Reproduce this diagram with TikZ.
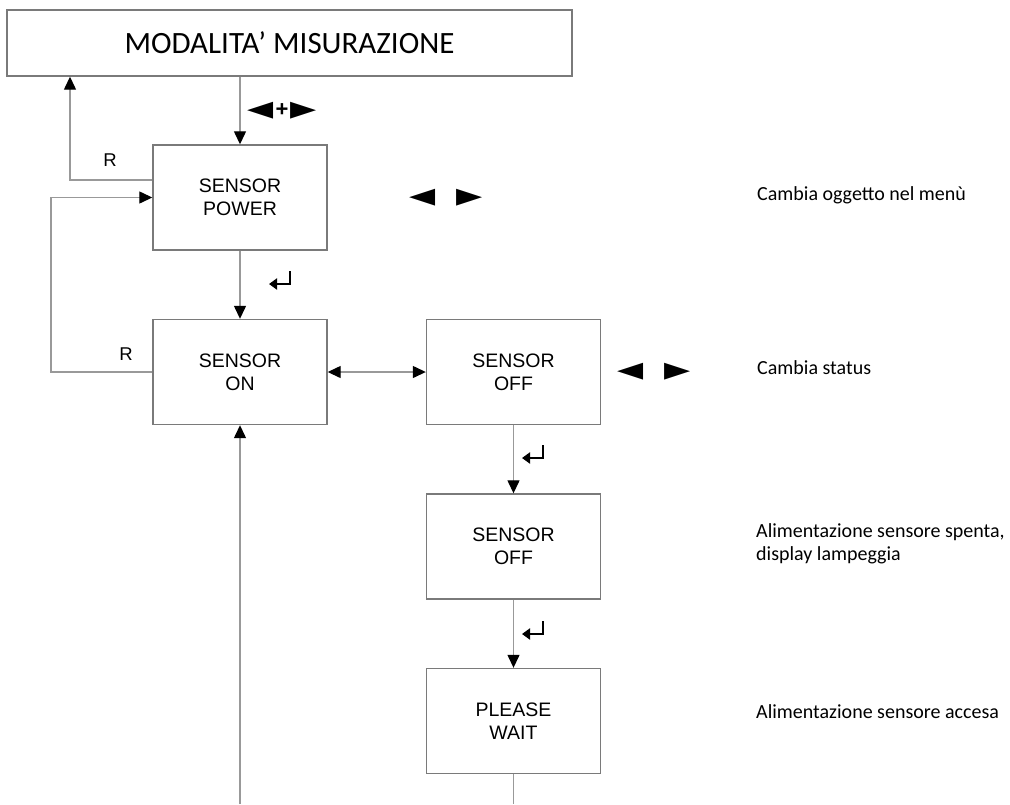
\documentclass[tikz,border=0pt]{standalone}
\usepackage{fontspec}
\setmainfont{Liberation Sans}
\newfontfamily\calib{Carlito}
\newfontfamily\symb{DejaVu Sans}
\usetikzlibrary{arrows.meta}

\definecolor{linegray}{HTML}{999999}
\definecolor{boxgray}{HTML}{7A7A7A}

\begin{document}
\begin{tikzpicture}[x=1pt,y=-1pt,
  state/.style={draw=boxgray, line width=1.4pt, minimum width=174pt,
    minimum height=105pt, inner sep=0pt, align=center,
    font=\fontsize{19.5}{23}\selectfont},
  titlebox/.style={draw=boxgray, line width=1.4pt, minimum width=565pt,
    minimum height=66pt, inner sep=0pt, font=\calib\fontsize{31}{34}\selectfont},
  conn/.style={draw=linegray, line width=1.3pt},
  arr/.style={conn, -{Triangle[length=13pt,width=12pt,color=black]}},
  darr/.style={conn, {Triangle[length=13pt,width=12pt,color=black]}-{Triangle[length=13pt,width=12pt,color=black]}},
  keys/.style={inner sep=0pt, font=\symb\fontsize{34}{36}\selectfont},
  rlabel/.style={inner sep=0pt, font=\fontsize{18.5}{20}\selectfont},
  note/.style={anchor=west, inner sep=0pt, align=left,
    font=\calib\fontsize{20}{22.5}\selectfont},
  enterkey/.pic={
    \draw[line width=2.4pt, -{Triangle[length=8pt,width=11pt]}]
      (10,-8) -- (10,5) -- (-11,5);
  }
]
\useasboundingbox (0,0) rectangle (1010,804);

% menu boxes
\node[titlebox] (title) at (289.5,43) {MODALITA’ MISURAZIONE};
\node[state] (power) at (240,197.5) {SENSOR\\POWER};
\node[state] (on)    at (240,372)   {SENSOR\\ON};
\node[state] (off)   at (513.5,372) {SENSOR\\OFF};
\node[state] (off2)  at (513.5,546.5) {SENSOR\\OFF};
\node[state] (wait)  at (513.5,721) {PLEASE\\WAIT};

% helper points for the return paths and the lower edge
\coordinate (rx1) at (70,0);
\coordinate (rx2) at (51,0);
\coordinate (bottom) at (0,804);

% connectors
\draw[arr] (power.north |- title.south) -- (power.north);
\draw[arr] ([yshift=17.5pt]power.west) -| (title.south -| rx1);
\draw[arr] (on.west) -| (rx2 |- power.west) -- (power.west);
\draw[arr] (power.south) -- (on.north);
\draw[darr] (on.east) -- (off.west);
\draw[arr] (off.south) -- (off2.north);
\draw[arr] (off2.south) -- (wait.north);
\draw[conn] (wait.south) -- (wait.south |- bottom);
\draw[arr] (on.south |- bottom) -- (on.south);

% key labels
\node[keys] (k1) at (282,111) {◄\hspace{2pt}\raisebox{3pt}{\fontsize{22}{22}\selectfont\bfseries\rmfamily +}\hspace{2pt}►};
\node[keys] (k2) at (446,198) {◄\hspace{21pt}►};
\node[keys] (k3) at (654.5,372) {◄\hspace{21pt}►};
\node[rlabel] (r1) at (110,160) {R};
\node[rlabel] (r2) at (126,354) {R};
\pic (e1) at (280,279) {enterkey};
\pic (e2) at (533,453) {enterkey};
\pic (e3) at (533,629) {enterkey};

% descriptions
\node[note] (n1) at (757,195) {Cambia oggetto nel menù};
\node[note] (n2) at (757,368) {Cambia status};
\node[note] (n3) at (756,544) {Alimentazione sensore spenta,\\display lampeggia};
\node[note] (n4) at (756,712) {Alimentazione sensore accesa};
\end{tikzpicture}
\end{document}
